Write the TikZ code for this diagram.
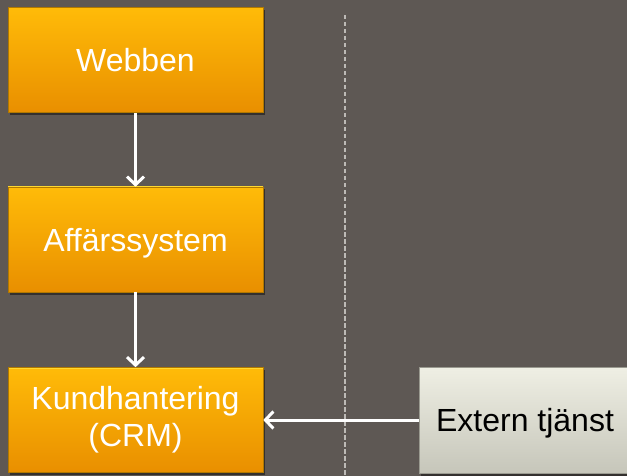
\documentclass[tikz,border=0pt]{standalone}
\usepackage{fontspec}
\setmainfont{Liberation Sans}
\usetikzlibrary{arrows.meta,shadows}
\definecolor{bgc}{HTML}{5E5854}
\definecolor{orTop}{HTML}{FFBB08}
\definecolor{orBot}{HTML}{E98F00}
\definecolor{orEdge}{HTML}{B07800}
\definecolor{orHi}{HTML}{FFD830}
\definecolor{exTop}{HTML}{EFEFE4}
\definecolor{exBot}{HTML}{C6C6BA}
\definecolor{exEdge}{HTML}{9A9A90}
\definecolor{dashc}{HTML}{BDBAB6}
\tikzset{
  orbox/.style={rectangle, minimum width=255pt, minimum height=105pt, inner sep=0pt,
    top color=orTop, bottom color=orBot, draw=orEdge, line width=0.6pt,
    text=white, align=center, font=\fontsize{32}{37}\selectfont,
    drop shadow={shadow xshift=1.5pt, shadow yshift=-2.5pt, opacity=0.45, fill=black},
    path picture={\draw[orHi, line width=2pt] (path picture bounding box.north west) -- (path picture bounding box.north east);}},
  exbox/.style={rectangle, minimum width=212pt, minimum height=106pt, inner sep=0pt,
    top color=exTop, bottom color=exBot, draw=exEdge, line width=0.6pt,
    text=black, align=center, font=\fontsize{32}{37}\selectfont,
    drop shadow={shadow xshift=1.5pt, shadow yshift=-2.5pt, opacity=0.45, fill=black},
    path picture={\draw[white, line width=2pt] (path picture bounding box.north west) -- (path picture bounding box.north east);}},
  oneline/.style={text depth=0pt},
  conn/.style={draw=white, line width=3pt, -{Straight Barb[length=8pt,width=17pt,line width=3pt]}},
  divider/.style={draw=dashc, line width=1.6pt, dash pattern=on 4.5pt off 2.5pt}
}
\begin{document}
\begin{tikzpicture}[x=1pt,y=-1pt]
\useasboundingbox (0,0) rectangle (627,476);
\clip (0,0) rectangle (627,476);
\fill[bgc] (0,0) rectangle (627,476);
\coordinate (dtop) at (345,15);
\coordinate (dbot) at (345,476);
\draw[divider] (dtop) -- (dbot);
\node[orbox,oneline] (web) at (135.5,60) {Webben};
\node[orbox,oneline] (aff) at (135.5,239.5) {Affärssystem};
\node[orbox] (crm) at (135.5,420) {Kundhantering\\(CRM)};
\node[exbox,oneline] (ext) at (525,420) {Extern tjänst};
\draw[conn] (web) -- (aff);
\draw[conn] (aff) -- (crm);
\draw[conn] (ext) -- (crm);
\end{tikzpicture}
\end{document}
